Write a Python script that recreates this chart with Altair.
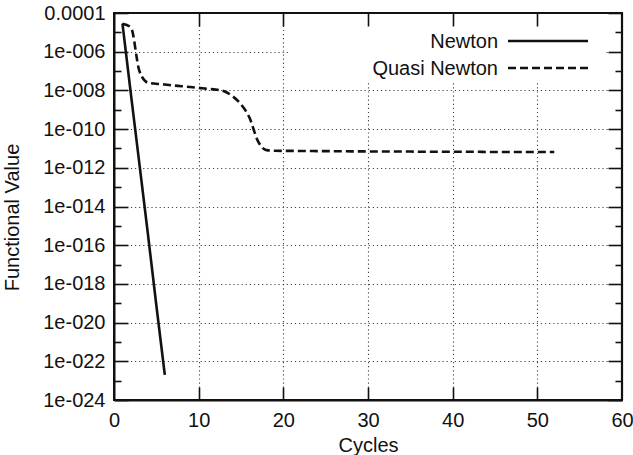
import altair as alt
import pandas as pd

# ---- data ----
newton_x = [1, 2, 3, 4, 5, 6]
newton_y = [2.8e-5, 6.3e-9, 1.6e-12, 4.0e-16, 7.9e-20, 2.0e-23]

quasi_x = list(range(1, 53))
quasi_y = [2.8e-5, 1.8e-5, 1.0e-7, 2.5e-8, 2.2e-8, 2.0e-8, 1.8e-8, 1.65e-8,
           1.5e-8, 1.35e-8, 1.2e-8, 1.1e-8, 9.0e-9, 5.0e-9, 1.9e-9, 3.9e-10,
           2.4e-11, 8.2e-12,
           7.6e-12, 7.5e-12, 7.5e-12, 7.4e-12, 7.4e-12, 7.3e-12, 7.3e-12,
           7.2e-12, 7.2e-12, 7.1e-12, 7.1e-12, 7.0e-12, 7.0e-12, 7.0e-12, 6.9e-12, 6.9e-12, 6.9e-12,
           6.8e-12, 6.8e-12, 6.8e-12, 6.8e-12, 6.7e-12, 6.7e-12, 6.7e-12, 6.7e-12, 6.6e-12, 6.6e-12,
           6.6e-12, 6.6e-12, 6.6e-12, 6.5e-12, 6.5e-12, 6.5e-12, 6.5e-12]

series_names = ["Newton", "Quasi Newton"]

x_ticks = [0, 10, 20, 30, 40, 50, 60]
x_inner = [10, 20, 30, 40, 50]
y_major = [1e-24, 1e-22, 1e-20, 1e-18, 1e-16, 1e-14, 1e-12, 1e-10, 1e-8, 1e-6, 1e-4]
y_exps = [-24, -22, -20, -18, -16, -14, -12, -10, -8, -6, -4]
y_labels = ["1e-024", "1e-022", "1e-020", "1e-018", "1e-016", "1e-014",
            "1e-012", "1e-010", "1e-008", "1e-006", "0.0001"]
y_minor = [1e-23, 1e-21, 1e-19, 1e-17, 1e-15, 1e-13, 1e-11, 1e-9, 1e-7, 1e-5]

x_title = "Cycles"
y_title = "Functional Value"

# ---- layout ----
W, H = 508, 387
FONT = "Liberation Sans"
INK = "#111111"

label_expr = "".join(
    f"round(log(datum.value)/LN10) == {e} ? '{lab}' : " for e, lab in zip(y_exps, y_labels)
) + "''"

grid_kw = dict(grid=True, gridColor="#444444", gridWidth=1.1, gridDash=[1.2, 2.9], gridOpacity=1)
frame_kw = dict(domain=True, domainColor=INK, domainWidth=2, domainOpacity=1)

xs = alt.Scale(domain=[0, 60], nice=False, zero=False)
ys = alt.Scale(type="log", domain=[1e-24, 1e-4], nice=False)

# main axes: labels, grid, titles, bottom/left frame
x_axis_main = alt.Axis(orient="bottom", values=x_ticks, format="d", labelFont=FONT,
                       labelFontSize=20, labelColor=INK, labelPadding=10, labelFlush=False,
                       labelOverlap=False, ticks=False, tickSize=0,
                       title=x_title, titleFont=FONT, titleFontSize=20, titleFontWeight="normal",
                       titleColor=INK, titleX=W / 2, titleY=51, titleAlign="center",
                       titleBaseline="alphabetic", zindex=0, **grid_kw, **frame_kw)
y_axis_main = alt.Axis(orient="left", values=y_major, labelExpr=label_expr, labelFont=FONT,
                       labelFontSize=20, labelColor=INK, labelPadding=9, labelOverlap=False,
                       labelFlush=False, ticks=False, tickSize=0,
                       title=y_title, titleFont=FONT, titleFontSize=20, titleFontWeight="normal",
                       titleColor=INK, titleX=-96, titleY=204, titleAngle=270, titleAlign="center",
                       titleBaseline="alphabetic", zindex=0, **grid_kw, **frame_kw)


def tick_axis(orient, values, length):
    # inward ticks: the axis is moved inside the plot by its own tick length
    return alt.Axis(orient=orient, values=values, offset=-length, tickSize=length,
                    ticks=True, tickColor=INK, tickWidth=1.6, tickOpacity=1,
                    labels=False, domain=False, grid=False, title=None, zindex=1)


df_n = pd.DataFrame({"x": newton_x, "y": newton_y})
df_q = pd.DataFrame({"x": quasi_x, "y": quasi_y})
one = pd.DataFrame({"a": [0]})

line_q = alt.Chart(df_q).mark_line(color=INK, strokeWidth=2.6,
                                   strokeDash=[8, 4], interpolate="monotone").encode(
    x=alt.X("x:Q", scale=xs, axis=x_axis_main),
    y=alt.Y("y:Q", scale=ys, axis=y_axis_main))

line_n = alt.Chart(df_n).mark_line(color=INK, strokeWidth=2.6).encode(
    x=alt.X("x:Q", scale=xs, axis=tick_axis("top", x_inner, 13)),
    y=alt.Y("y:Q", scale=ys, axis=tick_axis("right", y_major, 14)))

ghost_c = alt.Chart(df_n).mark_point(opacity=0).encode(
    x=alt.X("x:Q", scale=xs, axis=tick_axis("bottom", x_inner, 13)),
    y=alt.Y("y:Q", scale=ys, axis=tick_axis("left", y_major, 14)))
ghost_d = alt.Chart(df_n).mark_point(opacity=0).encode(
    x=alt.X("x:Q", scale=xs, axis=None),
    y=alt.Y("y:Q", scale=ys, axis=tick_axis("left", y_minor, 7)))
ghost_e = alt.Chart(df_n).mark_point(opacity=0).encode(
    x=alt.X("x:Q", scale=xs, axis=None),
    y=alt.Y("y:Q", scale=ys, axis=tick_axis("right", y_minor, 7)))

legend_bg = alt.Chart(one).mark_rect(color="white").encode(
    x=alt.value(176), x2=alt.value(490), y=alt.value(1), y2=alt.value(70))

leg_df = pd.DataFrame({"name": series_names})
leg_t1 = alt.Chart(leg_df.iloc[[0]]).mark_text(
    align="right", baseline="middle", font=FONT, fontSize=20, color=INK).encode(
    text="name:N", x=alt.value(384), y=alt.value(29))
leg_t2 = alt.Chart(leg_df.iloc[[1]]).mark_text(
    align="right", baseline="middle", font=FONT, fontSize=20, color=INK).encode(
    text="name:N", x=alt.value(384), y=alt.value(56))
leg_l1 = alt.Chart(one).mark_rule(color=INK, strokeWidth=2.6).encode(
    x=alt.value(394), x2=alt.value(474), y=alt.value(28))
leg_l2 = alt.Chart(one).mark_rule(color=INK, strokeWidth=2.6, strokeDash=[8, 4]).encode(
    x=alt.value(394), x2=alt.value(474), y=alt.value(55))

# top and right frame edges
frame_top = alt.Chart(one).mark_rule(color=INK, strokeWidth=2.2).encode(
    x=alt.value(0), x2=alt.value(W), y=alt.value(0))
frame_right = alt.Chart(one).mark_rule(color=INK, strokeWidth=2.2).encode(
    x=alt.value(W), y=alt.value(0), y2=alt.value(H))

chart = alt.layer(
    line_q, legend_bg, line_n, ghost_c, ghost_d, ghost_e,
    leg_t1, leg_t2, leg_l1, leg_l2, frame_top, frame_right,
).resolve_axis(
    x="independent", y="independent"
).properties(
    width=W, height=H,
    autosize=alt.AutoSizeParams(type="none"),
    padding={"left": 114, "top": 13, "right": 11, "bottom": 55},
).configure_view(
    stroke=INK, strokeWidth=2
)

chart.save("out.html", embed_options={"renderer": "svg", "actions": False})
